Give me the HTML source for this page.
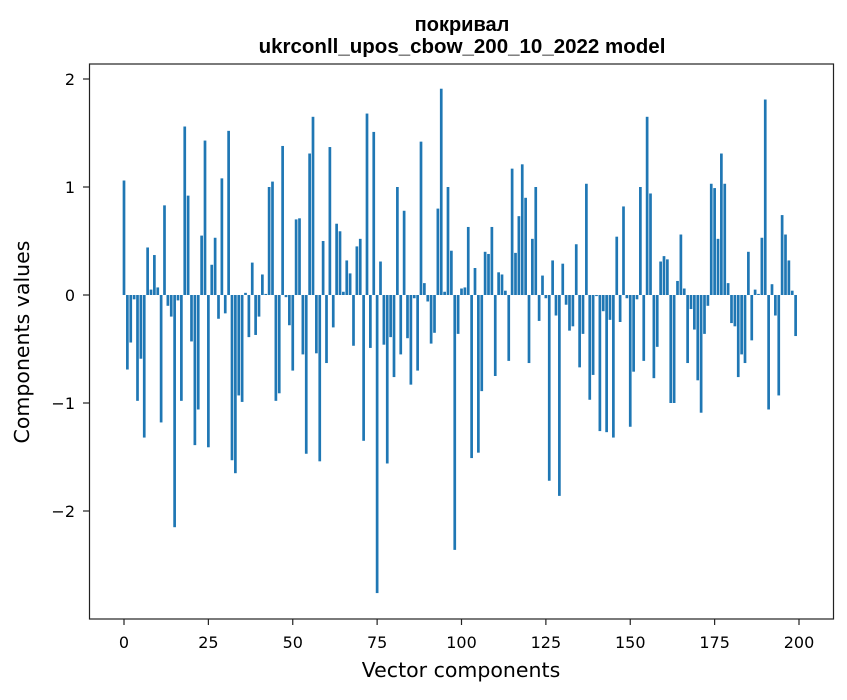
<!DOCTYPE html>
<html><head><meta charset="utf-8"><style>
body{margin:0;background:#fff;font-family:"DejaVu Sans",sans-serif;}
svg text{font-family:"DejaVu Sans",sans-serif;}
</style></head><body>
<svg id="chart" width="847" height="696" xmlns="http://www.w3.org/2000/svg">
<rect width="847" height="696" fill="#fff"/>
<text x="462" y="31" text-anchor="middle" font-size="20" font-weight="bold" style="font-family:'Liberation Sans',sans-serif">покривал</text>
<text x="462" y="53" text-anchor="middle" font-size="20.5" font-weight="bold" style="font-family:'Liberation Sans',sans-serif">ukrconll_upos_cbow_200_10_2022 model</text>
<g id="bars"></g>
<g id="xticks"></g>
<g id="yticks"></g>
<rect x="89.5" y="64" width="744" height="555" fill="none" stroke="#222" stroke-width="1.2"/>
<text x="461" y="677" text-anchor="middle" font-size="20.5">Vector components</text>
<text transform="translate(29,342) rotate(-90)" text-anchor="middle" font-size="20.5">Components values</text>
</svg>
<script>
const values = [1.06,-0.69,-0.44,-0.04,-0.98,-0.59,-1.32,0.44,0.05,0.37,0.07,-1.18,0.83,-0.10,-0.20,-2.15,-0.05,-0.98,1.56,0.92,
-0.43,-1.39,-1.06,0.55,1.43,-1.41,0.28,0.53,-0.22,1.08,-0.17,1.52,-1.53,-1.65,-0.93,-0.99,0.02,-0.39,0.30,-0.37,
-0.20,0.19,0.01,1.00,1.05,-0.98,-0.91,1.38,-0.02,-0.28,-0.70,0.70,0.71,-0.55,-1.47,1.31,1.65,-0.54,-1.54,0.50,
-0.63,1.37,-0.30,0.66,0.59,0.03,0.32,0.20,-0.47,0.45,0.52,-1.35,1.68,-0.49,1.51,-2.76,0.31,-0.46,-1.56,-0.39,
-0.76,1.00,-0.55,0.78,-0.40,-0.83,-0.03,-0.70,1.42,0.11,-0.06,-0.45,-0.35,0.80,1.91,0.03,1.00,0.41,-2.36,-0.36,
0.06,0.07,0.63,-1.51,0.25,-1.46,-0.89,0.40,0.38,0.63,-0.75,0.21,0.19,0.04,-0.61,1.17,0.39,0.73,1.21,0.90,
-0.63,0.52,1.00,-0.24,0.18,-0.03,-1.72,0.32,-0.19,-1.86,0.29,-0.09,-0.33,-0.29,0.47,-0.67,-0.36,1.03,-0.97,-0.74,
-0.01,-1.26,-0.15,-1.27,-0.23,-1.32,0.54,-0.25,0.82,-0.03,-1.22,-0.71,-0.04,1.00,-0.61,1.65,0.94,-0.77,-0.48,0.31,
0.36,0.33,-1.00,-1.00,0.13,0.56,0.06,-0.63,-0.13,-0.32,-0.79,-1.09,-0.36,-0.10,1.03,0.99,0.52,1.31,1.03,0.11,
-0.26,-0.29,-0.76,-0.55,-0.63,0.40,-0.42,0.05,0.01,0.53,1.81,-1.06,0.10,-0.19,-0.93,0.74,0.56,0.32,0.04,-0.38];
const xTickLabels = [0,25,50,75,100,125,150,175,200];
const yTickLabels = [-2,-1,0,1,2];
const NS="http://www.w3.org/2000/svg";
function xs(v){return 124+v*3.375;}
function ys(v){return 295-v*108;}
const bars=document.getElementById('bars');
values.forEach((v,i)=>{
  const r=document.createElementNS(NS,'rect');
  
  
  const y0=ys(0),y1=ys(v);
  r.setAttribute('x',xs(i-0.4));
  r.setAttribute('width',3.375*0.8);
  r.setAttribute('y',Math.min(y0,y1));
  r.setAttribute('height',Math.abs(y1-y0));
  r.setAttribute('fill','#1f77b4');
  bars.appendChild(r);
});
const xt=document.getElementById('xticks');
xTickLabels.forEach(t=>{
  const l=document.createElementNS(NS,'line');
  
  
  l.setAttribute('x1',xs(t));l.setAttribute('x2',xs(t));
  l.setAttribute('y1',619);l.setAttribute('y2',625);l.setAttribute('stroke','#222');l.setAttribute('stroke-width','1.2');
  xt.appendChild(l);
  const tx=document.createElementNS(NS,'text');
  
  
  tx.setAttribute('x',xs(t));tx.setAttribute('y',648);
  tx.setAttribute('text-anchor','middle');tx.setAttribute('font-size','16');
  tx.textContent=t;
  xt.appendChild(tx);
});
const yt=document.getElementById('yticks');
yTickLabels.forEach(t=>{
  const l=document.createElementNS(NS,'line');
  
  
  l.setAttribute('x1',83);l.setAttribute('x2',89);
  l.setAttribute('y1',ys(t));l.setAttribute('y2',ys(t));l.setAttribute('stroke','#222');l.setAttribute('stroke-width','1.2');
  yt.appendChild(l);
  const tx=document.createElementNS(NS,'text');
  
  
  tx.setAttribute('x',75);tx.setAttribute('y',ys(t)+6);
  tx.setAttribute('text-anchor','end');tx.setAttribute('font-size','16');
  tx.textContent=t<0?'\u2212'+Math.abs(t):String(t);
  yt.appendChild(tx);
});
</script>
</body></html>
